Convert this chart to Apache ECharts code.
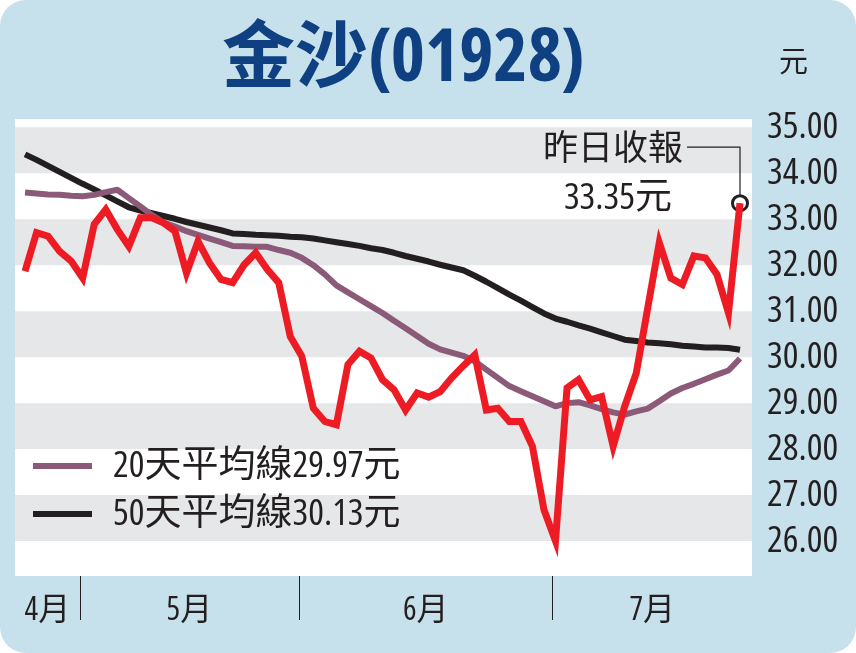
<!DOCTYPE html>
<html><head><meta charset="utf-8">
<script src="https://cdn.jsdelivr.net/npm/echarts@6/dist/echarts.min.js"></script>
<style>html,body{margin:0;padding:0;background:#fff;}#c{width:856px;height:653px;}</style>
</head><body><div id="c"></div>
<script>
// ---- data ----
const closePrice = [31.87,32.71,32.63,32.30,32.09,31.72,32.89,33.21,32.78,32.41,
  33.03,33.03,32.92,32.74,31.83,32.52,32.05,31.69,31.62,32.01,
  32.27,31.91,31.62,30.45,30.02,28.89,28.60,28.53,29.84,30.13,
  29.98,29.51,29.29,28.85,29.22,29.13,29.25,29.55,29.81,30.05,
  28.85,28.89,28.60,28.60,28.06,26.68,26.00,29.33,29.51,29.07,
  29.14,28.06,28.93,29.65,31.07,32.49,31.72,31.58,32.20,32.16,
  31.80,30.96,33.35];
const ma20 = [33.58,33.56,33.54,33.53,33.51,33.50,33.53,33.59,33.64,33.46,
  33.28,33.09,32.93,32.84,32.74,32.66,32.58,32.50,32.42,32.41,
  32.40,32.40,32.33,32.27,32.16,32.00,31.80,31.56,31.41,31.26,
  31.11,30.96,30.79,30.63,30.46,30.29,30.17,30.10,30.03,29.91,
  29.73,29.55,29.37,29.26,29.15,29.04,28.93,29.00,29.02,28.95,
  28.87,28.80,28.75,28.82,28.88,29.04,29.21,29.33,29.42,29.52,
  29.62,29.71,29.97];
const ma50 = [34.41,34.29,34.16,34.03,33.90,33.77,33.65,33.52,33.39,33.26,
  33.19,33.13,33.07,33.01,32.94,32.88,32.82,32.76,32.69,32.68,
  32.66,32.65,32.64,32.62,32.61,32.58,32.54,32.50,32.46,32.42,
  32.37,32.33,32.27,32.20,32.14,32.08,32.01,31.95,31.89,31.77,
  31.64,31.50,31.36,31.23,31.09,30.95,30.84,30.77,30.69,30.62,
  30.54,30.46,30.38,30.35,30.32,30.30,30.28,30.25,30.23,30.21,
  30.21,30.20,30.16];
const months = ['4月','5月','6月','7月'];
const monthStart = [0, 5, 24, 46];           // index of first trading day of each month
const yTicks = [26,27,28,29,30,31,32,33,34,35];
const bands = [[26,27],[28,29],[30,31],[32,33],[34,35]];
const seriesNames = ['20天平均線29.97元','50天平均線30.13元'];
const lastLabel = '昨日收報';

// ---- layout helpers ----
const FAM = "'Open Sans','Noto Sans CJK TC','Noto Sans CJK SC',sans-serif";
const COND = 'condensed';
const xMin = -0.87, xMax = closePrice.length - 1 + 1.04;
const bounds = monthStart.slice(1).map(s => s - 0.25);
const edges = [xMin].concat(bounds, [xMax]);
const labelPos = months.map((m, i) => +((edges[i] + edges[i + 1]) / 2).toFixed(3));
const pairs = arr => arr.map((v, i) => [i, v]);
const dark = '#231f20';

const chart = echarts.init(document.getElementById('c'), null, {renderer: 'canvas'});
const option = {
  animation: false,
  backgroundColor: '#ffffff',
  graphic: [{
    type: 'rect', z: -10, silent: true,
    shape: {x: 0, y: 0, width: 856, height: 653, r: 26},
    style: {fill: '#c6e0ec'}
  }],
  title: [{
    text: '金沙(01928)', left: 222, top: 24, padding: 0,
    textStyle: {fontSize: 73, fontStyle: COND, fontWeight: 'bold', color: '#0f4182', fontFamily: FAM}
  }, {
    text: '元', left: 779, top: 49, padding: 0,
    textStyle: {fontSize: 29, fontStyle: COND, fontWeight: 'normal', color: dark, fontFamily: FAM}
  }],
  legend: {
    orient: 'vertical', left: 28, top: 442,
    data: seriesNames, icon: 'rect', itemWidth: 59, itemHeight: 6, itemGap: 10,
    selectedMode: false,
    textStyle: {fontSize: 37, fontStyle: COND, lineHeight: 38, color: dark, fontFamily: FAM, padding: [0, 0, 0, 16]}
  },
  grid: {left: 15, right: 104, top: 119, bottom: 77, show: true, backgroundColor: '#ffffff', borderWidth: 0},
  xAxis: {
    type: 'value', min: xMin, max: xMax,
    splitLine: {show: false}, axisLine: {show: false},
    axisTick: {show: true, customValues: bounds, length: 44, lineStyle: {color: dark, width: 1}},
    axisLabel: {
      show: true, customValues: labelPos, margin: 19,
      fontSize: 32, fontStyle: COND, color: dark, fontFamily: FAM,
      formatter: v => { let k = 0, d = 1e9; labelPos.forEach((p, i) => { if (Math.abs(p - v) < d) { d = Math.abs(p - v); k = i; } }); return months[k]; }
    }
  },
  yAxis: {
    type: 'value', position: 'right', min: 25.24, max: 35.18,
    splitLine: {show: false}, axisLine: {show: false}, axisTick: {show: false},
    axisLabel: {customValues: yTicks, margin: 15, fontSize: 37, fontStyle: COND, color: dark, fontFamily: FAM,
      formatter: v => v.toFixed(2)}
  },
  series: [{
    name: 'bands', type: 'line', data: [], z: 1, silent: true,
    markArea: {silent: true, itemStyle: {color: '#e6e7e8'},
      data: bands.map(b => [{yAxis: b[0]}, {yAxis: b[1]}])}
  }, {
    name: seriesNames[1], type: 'line', data: pairs(ma50), z: 3, symbol: 'none',
    itemStyle: {color: dark}, lineStyle: {color: dark, width: 6}
  }, {
    name: seriesNames[0], type: 'line', data: pairs(ma20), z: 4, symbol: 'none',
    itemStyle: {color: '#8c5a79'}, lineStyle: {color: '#8c5a79', width: 6}
  }, {
    name: 'close', type: 'line', data: pairs(closePrice), z: 5, symbol: 'none',
    itemStyle: {color: '#ed1c24'}, lineStyle: {color: '#ed1c24', width: 7, join: 'miter', miterLimit: 10},
    markPoint: {
      symbol: 'circle', symbolSize: 15, silent: true,
      itemStyle: {color: '#ffffff', borderColor: dark, borderWidth: 3},
      label: {show: false},
      data: [{coord: [closePrice.length - 1, closePrice[closePrice.length - 1]]}]
    }
  }]
};
chart.setOption(option);

// annotation anchored to the last close through the chart's own scales
const lastI = closePrice.length - 1, lastV = closePrice[lastI];
const p = chart.convertToPixel({gridIndex: 0}, [lastI, lastV]);
const annFont = 'condensed normal 35px ' + FAM;
chart.setOption({graphic: [
  option.graphic[0],
  {type: 'polyline', silent: true, z: 10,
   shape: {points: [[p[0] - 53, p[1] - 56], [p[0], p[1] - 56], [p[0], p[1] - 7]]},
   style: {stroke: dark, lineWidth: 1.2, fill: null}},
  {type: 'text', silent: true, z: 10, x: p[0] - 57, y: p[1] - 53,
   style: {text: lastLabel, font: annFont, fill: dark, align: 'right', verticalAlign: 'middle'}},
  {type: 'text', silent: true, z: 10, x: p[0] - 68, y: p[1] - 5,
   style: {text: lastV.toFixed(2) + '元', font: 'condensed normal 37px ' + FAM, fill: dark, align: 'right', verticalAlign: 'middle'}}
]});
</script></body></html>
